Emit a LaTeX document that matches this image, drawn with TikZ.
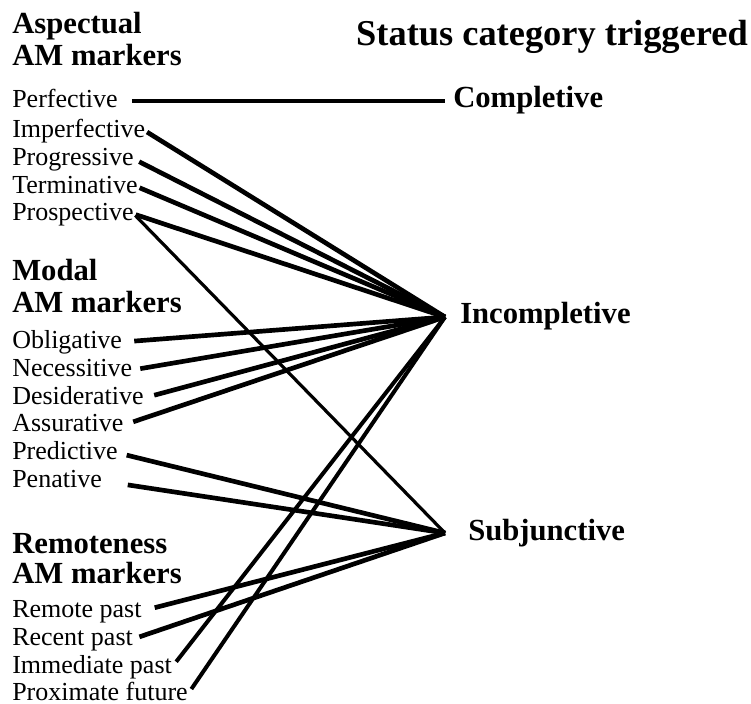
\documentclass[tikz,border=0pt]{standalone}
\usepackage{fontspec}
\setmainfont{Liberation Serif}
\begin{document}
\begin{tikzpicture}[x=0.75pt,y=-0.75pt,
    hd/.style={anchor=base west,inner sep=0pt,font=\bfseries\fontsize{23}{23}\selectfont},
    mk/.style={anchor=base west,inner sep=0pt,text height=13pt,text depth=4pt,font=\fontsize{19.5}{19.5}\selectfont},
    cat/.style={anchor=base west,inner sep=0pt,font=\bfseries\fontsize{23}{23}\selectfont},
    link/.style={line width=3.5pt,shorten <=3pt},
    thinlink/.style={line width=2.4pt,shorten <=1.5pt}]
\useasboundingbox (0,0) rectangle (751,704);
% headings
\node[anchor=base east,inner sep=0pt,font=\bfseries\fontsize{27.3}{27.3}\selectfont] (title) at (748,45) {Status category triggered};
\node[hd] (asp) at (12,33) {Aspectual};
\node[hd] (aspam) at (12,65) {AM markers};
\node[hd] (mod) at (12,280) {Modal};
\node[hd] (modam) at (12,312) {AM markers};
\node[hd] (rem) at (12,553) {Remoteness};
\node[hd] (remam) at (12,583) {AM markers};
% markers
\node[mk] (perf) at (12,107) {Perfective};
\node[mk] (imperf) at (12,137) {Imperfective};
\node[mk] (prog) at (12,165) {Progressive};
\node[mk] (term) at (12,193) {Terminative};
\node[mk] (prosp) at (12,220) {Prospective};
\node[mk] (oblig) at (12,348) {Obligative};
\node[mk] (necess) at (12,376) {Necessitive};
\node[mk] (desid) at (12,404) {Desiderative};
\node[mk] (assur) at (12,431) {Assurative};
\node[mk] (pred) at (12,459) {Predictive};
\node[mk] (penat) at (12,487) {Penative};
\node[mk] (rpast) at (12,617) {Remote past};
\node[mk] (cpast) at (12,645) {Recent past};
\node[mk] (ipast) at (12,673) {Immediate past};
\node[mk] (pfut) at (12,700) {Proximate future};
% status categories
\coordinate (hubC) at (445,101);
\coordinate (hubI) at (445,317);
\coordinate (hubS) at (445,533);
\node[cat] (completive) at (453,107) {Completive};
\node[cat] (incompletive) at (460,323) {Incompletive};
\node[cat] (subjunctive) at (468,540) {Subjunctive};
% links
\draw[link,shorten <=10.5pt] (perf.east) -- (hubC);
\draw[link,shorten <=1.5pt] (imperf.east) -- (hubI);
\draw[link,shorten <=4.5pt] (prog.east) -- (hubI);
\draw[link,shorten <=1.5pt] (term.east) -- (hubI);
\draw[link,shorten <=1.5pt] (prosp.east) -- (hubI);
\draw[thinlink] (prosp.east) -- (hubS);
\draw[link,shorten <=9pt] (oblig.east) -- (hubI);
\draw[link,shorten <=6pt] (necess.east) -- (hubI);
\draw[link,shorten <=8pt] (desid.east) -- (hubI);
\draw[link,shorten <=7.5pt] (assur.east) -- (hubI);
\draw[link,shorten <=6.75pt] (pred.east) -- (hubS);
\draw[link,shorten <=19.5pt] (penat.east) -- (hubS);
\draw[link,shorten <=10pt] (rpast.east) -- (hubS);
\draw[link,shorten <=5pt] (cpast.east) -- (hubS);
\draw[link,line width=3pt,shorten <=5pt] (ipast.east) -- (hubI);
\draw[link,line width=3pt,shorten <=4.5pt] (pfut.east) -- (hubI);
\end{tikzpicture}
\end{document}
